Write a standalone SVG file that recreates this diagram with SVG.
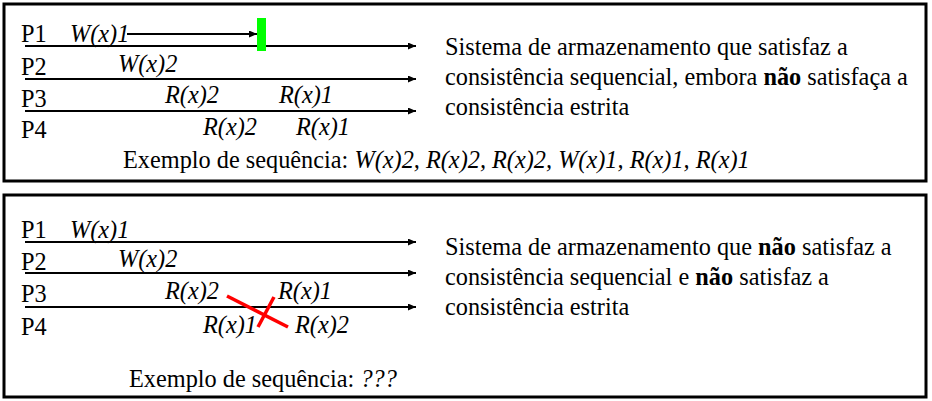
<svg xmlns="http://www.w3.org/2000/svg" width="932" height="401" viewBox="0 0 932 401">
<defs>
<marker id="ah" markerWidth="8" markerHeight="7" refX="8" refY="3.5" orient="auto" markerUnits="userSpaceOnUse">
<path d="M0,0 L8,3.5 L0,7 Z" fill="#000"/>
</marker>
<style>
.box{fill:#fff;stroke:#000;stroke-width:3}
text{font-family:'Liberation Serif','Times New Roman',serif;font-size:24.3px;fill:#000}
.i{font-style:italic}
.b{font-weight:bold}
.ln{stroke:#000;stroke-width:2;fill:none;marker-end:url(#ah)}
.x{stroke:#ff0000;stroke-width:3.5;fill:none}
</style>
</defs>
<rect width="932" height="401" fill="#fff"/>

<g id="panel1">
<rect class="box" x="4" y="4" width="922" height="177"/>
<g id="p1-labels">
<text x="21" y="42">P1</text>
<text x="21" y="75">P2</text>
<text x="21" y="107">P3</text>
<text x="21" y="138">P4</text>
</g>
<g id="p1-ops">
<text class="i" x="70" y="42">W(x)1</text>
<text class="i" x="118" y="72">W(x)2</text>
<text class="i" x="165" y="103">R(x)2</text>
<text class="i" x="279" y="103">R(x)1</text>
<text class="i" x="203" y="135">R(x)2</text>
<text class="i" x="296" y="135">R(x)1</text>
</g>
<g id="p1-connectors">
<line class="ln" x1="25" y1="46" x2="416" y2="46"/>
<line class="ln" x1="25" y1="79" x2="416" y2="79"/>
<line class="ln" x1="25" y1="111" x2="416" y2="111"/>
<line class="ln" x1="127" y1="34" x2="257" y2="34"/>
</g>
<rect id="p1-marker" x="257" y="18" width="9" height="33" fill="#00ff00"/>
<g id="p1-desc">
<text x="445" y="55">Sistema de armazenamento que satisfaz a</text>
<text x="445" y="85">consistência sequencial, embora <tspan class="b">não</tspan> satisfaça a</text>
<text x="445" y="115">consistência estrita</text>
</g>
<text id="p1-seq" x="123" y="168">Exemplo de sequência: <tspan class="i">W(x)2, R(x)2, R(x)2, W(x)1, R(x)1, R(x)1</tspan></text>
</g>

<g id="panel2">
<rect class="box" x="4" y="195" width="922" height="202"/>
<g id="p2-labels">
<text x="21" y="238">P1</text>
<text x="21" y="270">P2</text>
<text x="21" y="302">P3</text>
<text x="21" y="335">P4</text>
</g>
<g id="p2-ops">
<text class="i" x="70" y="238">W(x)1</text>
<text class="i" x="118" y="267">W(x)2</text>
<text class="i" x="165" y="299">R(x)2</text>
<text class="i" x="278" y="299">R(x)1</text>
<text class="i" x="203" y="333">R(x)1</text>
<text class="i" x="295" y="333">R(x)2</text>
</g>
<g id="p2-connectors">
<line class="ln" x1="25" y1="242" x2="416" y2="242"/>
<line class="ln" x1="25" y1="273" x2="416" y2="273"/>
<line class="ln" x1="25" y1="307" x2="416" y2="307"/>
</g>
<g id="p2-cross">
<line class="x" x1="227" y1="296" x2="288" y2="327"/>
<line class="x" x1="274" y1="297" x2="258" y2="327"/>
</g>
<g id="p2-desc">
<text x="445" y="255">Sistema de armazenamento que <tspan class="b">não</tspan> satisfaz a</text>
<text x="445" y="285">consistência sequencial e <tspan class="b">não</tspan> satisfaz a</text>
<text x="445" y="315">consistência estrita</text>
</g>
<text id="p2-seq" x="129" y="387">Exemplo de sequência: <tspan class="i">???</tspan></text>
</g>
</svg>
